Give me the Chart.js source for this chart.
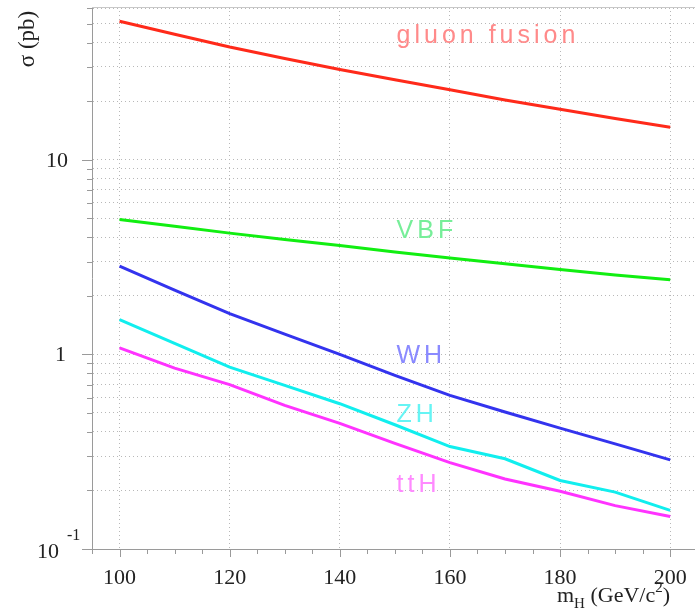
<!DOCTYPE html>
<html>
<head>
<meta charset="utf-8">
<script src="https://cdn.jsdelivr.net/npm/chart.js@4/dist/chart.umd.min.js"></script>
<style>
  body { margin: 0; background: #fff; }
  #wrap { width: 695px; height: 612px; position: relative; }
</style>
</head>
<body>
<div id="wrap"><canvas id="xsec"></canvas></div>
<script>
// Higgs mass points (GeV/c^2)
const masses = [100, 110, 120, 130, 140, 150, 160, 170, 180, 190, 200];

// production cross sections in pb
const ggFusion = [51.5, 44.2, 38.0, 33.2, 29.1, 25.8, 22.9, 20.3, 18.2, 16.3, 14.7];
const vbf = [4.94, 4.56, 4.20, 3.90, 3.63, 3.36, 3.13, 2.92, 2.73, 2.56, 2.42];
const wh = [2.84, 2.14, 1.62, 1.27, 1.00, 0.78, 0.616, 0.506, 0.418, 0.347, 0.287];
const zh = [1.51, 1.14, 0.86, 0.693, 0.558, 0.435, 0.336, 0.291, 0.225, 0.196, 0.158];
const tth = [1.08, 0.85, 0.70, 0.547, 0.442, 0.349, 0.278, 0.229, 0.198, 0.167, 0.147];

const seriesNames = ["gluon fusion", "VBF", "WH", "ZH", "ttH"];
const lineColors = ["#ff2a1a", "#11ee11", "#3333ee", "#11eeee", "#ff33ff"];
const nameColors = ["#ff8a8a", "#77ee99", "#8a8aff", "#66f4f4", "#ff8aff"];
// where each name is written (mass, cross section at text baseline)
const nameMass = 150.3;
const nameSigma = [40, 3.96, 0.90, 0.449, 0.196];

// axis ticks
const xMajor = [100, 120, 140, 160, 180, 200];
const xMinor = [95, 105, 110, 115, 125, 130, 135, 145, 150, 155, 165, 170, 175, 185, 190, 195];
const xLabels = ["100", "120", "140", "160", "180", "200"];
const yMajor = [0.1, 1, 10];
const yMinor = [0.2, 0.3, 0.4, 0.5, 0.6, 0.7, 0.8, 0.9,
                2, 3, 4, 5, 6, 7, 8, 9,
                20, 30, 40, 50, 60];

const seriesData = [ggFusion, vbf, wh, zh, tth];

const serif = '"Liberation Serif", "Times New Roman", serif';
const axisGrey = "#9a9a9a";

// frame, ticks, labels and series names
const decorations = {
  id: "decorations",
  afterDraw(chart) {
    const ctx = chart.ctx;
    const xs = chart.scales.x;
    const ys = chart.scales.y;
    const area = chart.chartArea;
    ctx.save();

    // top frame line
    ctx.strokeStyle = "#c8c8c8";
    ctx.lineWidth = 1;
    ctx.beginPath();
    ctx.moveTo(area.left, area.top + 0.5);
    ctx.lineTo(area.right, area.top + 0.5);
    ctx.stroke();

    // tick marks
    ctx.strokeStyle = axisGrey;
    ctx.beginPath();
    xMajor.forEach(v => {
      const px = Math.round(xs.getPixelForValue(v)) + 0.5;
      ctx.moveTo(px, area.bottom); ctx.lineTo(px, area.bottom + 8);
    });
    xMinor.forEach(v => {
      const px = Math.round(xs.getPixelForValue(v)) + 0.5;
      ctx.moveTo(px, area.bottom); ctx.lineTo(px, area.bottom + 5);
    });
    yMajor.forEach(v => {
      const py = Math.round(ys.getPixelForValue(v)) + 0.5;
      ctx.moveTo(area.left, py); ctx.lineTo(area.left - 10, py);
    });
    yMinor.forEach(v => {
      const py = Math.round(ys.getPixelForValue(v)) + 0.5;
      ctx.moveTo(area.left, py); ctx.lineTo(area.left - 5, py);
    });
    ctx.stroke();

    // tick labels
    ctx.fillStyle = "#222";
    ctx.font = "22px " + serif;
    ctx.textAlign = "center";
    ctx.textBaseline = "middle";
    xMajor.forEach((v, i) => {
      ctx.fillText(xLabels[i], xs.getPixelForValue(v), area.bottom + 29);
    });
    ctx.textAlign = "right";
    ctx.fillText("10", 68, ys.getPixelForValue(10) + 1);
    ctx.fillText("1", 66, ys.getPixelForValue(1) + 1);
    ctx.fillText("10", 59, ys.getPixelForValue(0.1) + 3);
    ctx.textAlign = "left";
    ctx.font = "16px " + serif;
    ctx.fillText("-1", 67, ys.getPixelForValue(0.1) - 13);

    // y title
    ctx.save();
    ctx.translate(28, 39);
    ctx.rotate(-Math.PI / 2);
    ctx.font = "23px " + serif;
    ctx.textAlign = "center";
    ctx.fillText("\u03c3 (pb)", 0, 0);
    ctx.restore();

    // x title with sub/superscript
    ctx.textBaseline = "alphabetic";
    ctx.textAlign = "left";
    const big = "22px " + serif, small = "15px " + serif;
    const base = 602;
    let cx = 557;
    const part = (txt, font, dy) => {
      ctx.font = font;
      ctx.fillText(txt, cx, base + dy);
      cx += ctx.measureText(txt).width;
    };
    part("m", big, 0);
    part("H", small, 6);
    part(" (GeV/c", big, 0);
    part("2", small, -10);
    part(")", big, 0);

    // series names
    ctx.font = "25px \"Liberation Sans\", Arial, sans-serif";
    if ("letterSpacing" in ctx) ctx.letterSpacing = "4px";
    seriesNames.forEach((name, i) => {
      ctx.fillStyle = nameColors[i];
      ctx.fillText(name, xs.getPixelForValue(nameMass), ys.getPixelForValue(nameSigma[i]));
    });
    ctx.restore();
  }
};

new Chart(document.getElementById("xsec"), {
  type: "line",
  data: {
    datasets: seriesNames.map((name, i) => ({
      label: name,
      data: masses.map((m, j) => ({ x: m, y: seriesData[i][j] })),
      borderColor: lineColors[i],
      borderWidth: 3,
      pointRadius: 0,
      tension: 0,
      fill: false,
    })),
  },
  options: {
    responsive: true,
    maintainAspectRatio: false,
    animation: false,
    layout: { padding: { top: 7, right: 0, left: 0, bottom: 0 } },
    plugins: {
      legend: { display: false },
      tooltip: { enabled: false },
    },
    scales: {
      x: {
        type: "linear",
        min: 95,
        max: 204.5,
        afterBuildTicks: (scale) => { scale.ticks = xMajor.map(v => ({ value: v })); },
        afterFit: (scale) => { scale.height = 63; },
        ticks: { display: false },
        grid: { color: "#b8b8b8", lineWidth: 1, drawTicks: false },
        border: { display: true, color: axisGrey, width: 1, dash: [1, 3] },
      },
      y: {
        type: "logarithmic",
        min: 0.1,
        max: 61,
        afterBuildTicks: (scale) => {
          scale.ticks = yMajor.concat(yMinor).sort((a, b) => a - b).map(v => ({ value: v }));
        },
        afterFit: (scale) => { scale.width = 92; },
        ticks: { display: false },
        grid: { color: "#b8b8b8", lineWidth: 1, drawTicks: false },
        border: { display: true, color: axisGrey, width: 1, dash: [1, 3] },
      },
    },
  },
  plugins: [decorations],
});
</script>
</body>
</html>
